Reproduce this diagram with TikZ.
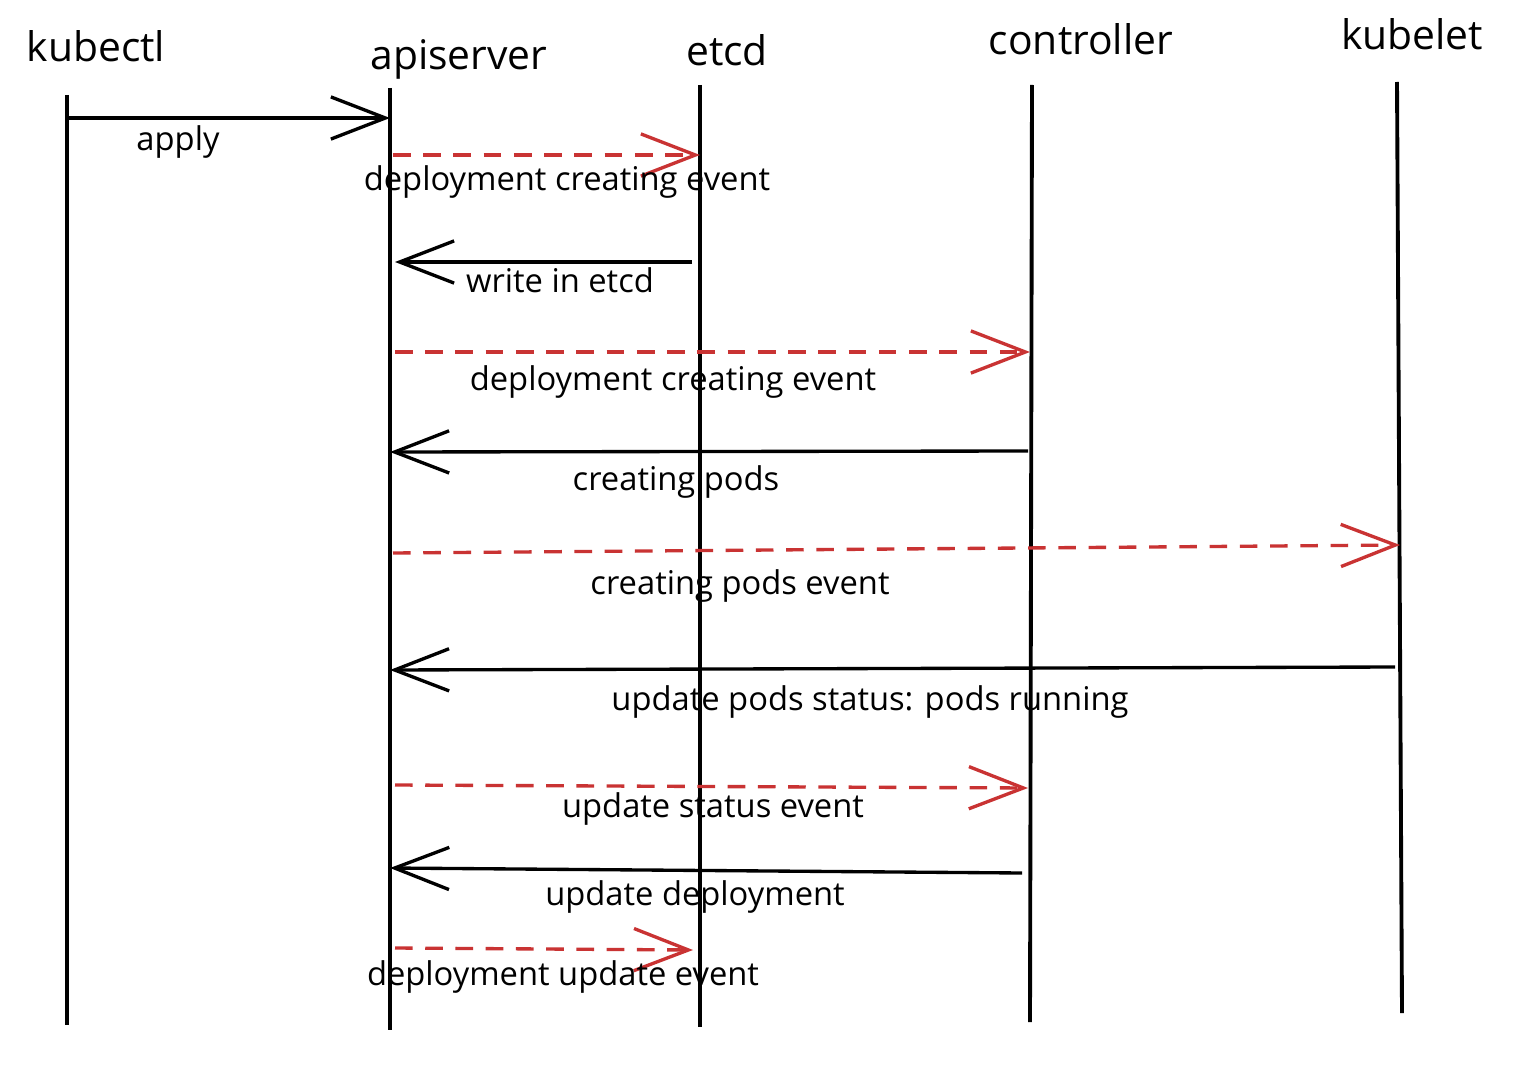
\documentclass[tikz,border=0pt]{standalone}
\usepackage{fontspec}
\setmainfont{Open Sans}
\usetikzlibrary{arrows.meta}
\definecolor{evred}{HTML}{C93333}
\begin{document}
\begin{tikzpicture}[x=0.01cm,y=-0.01cm,
  head/.style={anchor=base,inner sep=0pt,font=\fontsize{11.6pt}{13pt}\selectfont},
  lbl/.style={anchor=base,inner sep=0pt,font=\fontsize{9.3pt}{11pt}\selectfont},
  life/.style={line width=1.1pt,black},
  call/.style={line width=0.95pt,black,-{Straight Barb[length=15.5pt,width=12pt,line width=0.95pt]}},
  evt/.style={line width=0.95pt,evred,dash pattern=on 5pt off 3.6pt,-{Straight Barb[length=15.5pt,width=12pt,line width=0.95pt]}}]
\useasboundingbox (0,0) rectangle (1518,1070);
% participants
\node[head] (kubectl) at (96,62) {kubectl};
\node[head] (apiserver) at (459,70) {apiserver};
\node[head] (etcd) at (727,66) {etcd};
\node[head] (controller) at (1081,55) {controller};
\node[head] (kubelet) at (1412,50) {kubelet};
% lifelines
\coordinate (kT) at (67,95);   \coordinate (kB) at (67,1025);
\coordinate (aT) at (390,88);  \coordinate (aB) at (390,1030);
\coordinate (eT) at (700,85);  \coordinate (eB) at (700,1027);
\coordinate (cT) at (1032,85); \coordinate (cB) at (1030,1022);
\coordinate (lT) at (1397,82); \coordinate (lB) at (1402,1013);
\draw[life] (kT) -- (kB);
\draw[life] (aT) -- (aB);
\draw[life] (eT) -- (eB);
\draw[life] (cT) -- (cB);
\draw[life] (lT) -- (lB);
% message end points
\coordinate (m1a) at (68,118);   \coordinate (m1b) at (390,118);
\coordinate (m2a) at (393,155);  \coordinate (m2b) at (700,155);
\coordinate (m3a) at (692,262);  \coordinate (m3b) at (395,262);
\coordinate (m4a) at (395,352);  \coordinate (m4b) at (1030,352);
\coordinate (m5a) at (1028,451); \coordinate (m5b) at (390,452);
\coordinate (m6a) at (393,553);  \coordinate (m6b) at (1400,545);
\coordinate (m7a) at (1395,667); \coordinate (m7b) at (390,670);
\coordinate (m8a) at (395,785);  \coordinate (m8b) at (1028,788);
\coordinate (m9a) at (1022,873); \coordinate (m9b) at (390,868);
\coordinate (m10a) at (395,948); \coordinate (m10b) at (693,950);
% messages
\draw[call] (m1a) -- (m1b);
\draw[evt]  (m2a) -- (m2b);
\draw[call] (m3a) -- (m3b);
\draw[evt]  (m4a) -- (m4b);
\draw[call] (m5a) -- (m5b);
\draw[evt]  (m6a) -- (m6b);
\draw[call] (m7a) -- (m7b);
\draw[evt]  (m8a) -- (m8b);
\draw[call] (m9a) -- (m9b);
\draw[evt]  (m10a) -- (m10b);
% labels
\node[lbl] (l1) at (178,151) {apply};
\node[lbl] (l2) at (567,191) {deployment creating event};
\node[lbl] (l3) at (560,292) {write in etcd};
\node[lbl] (l4) at (673,390) {deployment creating event};
\node[lbl] (l5) at (676,490) {creating pods};
\node[lbl] (l6) at (740,594) {creating pods event};
\node[lbl] (l7) at (870,710) {update pods status: pods running};
\node[lbl] (l8) at (713,817) {update status event};
\node[lbl] (l9) at (695,905) {update deployment};
\node[lbl] (l10) at (563,985) {deployment update event};
\end{tikzpicture}
\end{document}
